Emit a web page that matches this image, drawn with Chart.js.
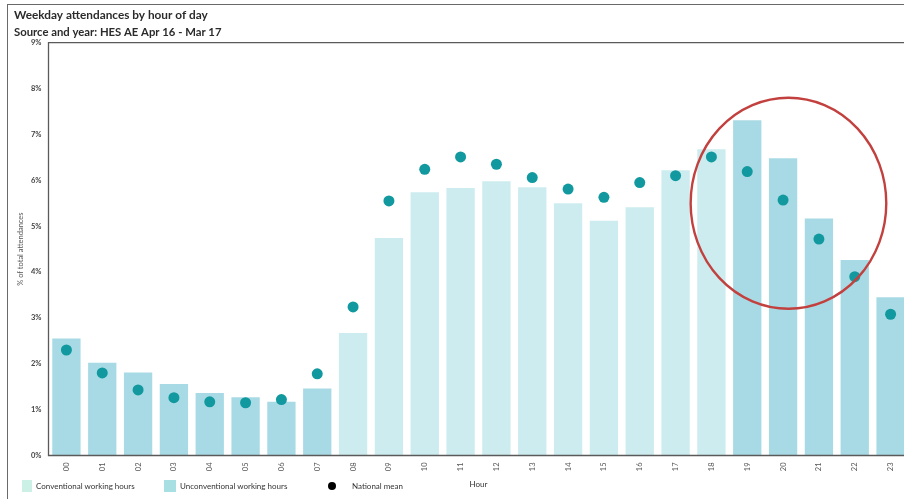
<!DOCTYPE html>
<html>
<head>
<meta charset="utf-8">
<script src="https://cdn.jsdelivr.net/npm/chart.js@4.4.1/dist/chart.umd.min.js"></script>
<style>
  html, body { margin: 0; padding: 0; background: #fff; overflow: hidden; }
  #wrap { position: relative; width: 904px; height: 499px; overflow: hidden; }
  #frame {
    position: absolute; left: 7px; top: 4px; width: 1000px; height: 600px;
    border: 1.5px solid #6a6a6a; box-sizing: border-box;
  }
  #attendance { position: absolute; left: 0; top: 0; }
  #legend { position: absolute; left: 0; top: 0; font-family: Lato, 'Open Sans', sans-serif; font-size: 8px; color: #333; }
  .item { position: absolute; top: 479px; height: 13px; display: flex; align-items: center; white-space: nowrap; }
  .swatch { display: inline-block; margin-right: 4px; }
</style>
</head>
<body>
<div id="wrap">
  <div id="frame"></div>
  <canvas id="attendance" width="914" height="499"></canvas>
  <div id="legend"></div>
</div>
<script>
// Weekday A&E attendances, share of the day's total by hour
const hours = ['00', '01', '02', '03', '04', '05', '06', '07', '08', '09', '10', '11',
               '12', '13', '14', '15', '16', '17', '18', '19', '20', '21', '22', '23'];
const attendances = [2.55, 2.02, 1.81, 1.56, 1.36, 1.27, 1.17, 1.46, 2.67, 4.74, 5.74, 5.83,
                     5.98, 5.85, 5.50, 5.12, 5.41, 6.22, 6.68, 7.31, 6.48, 5.17, 4.26, 3.45];
const nationalMean = [2.30, 1.80, 1.43, 1.26, 1.17, 1.15, 1.22, 1.78, 3.24, 5.55, 6.24, 6.51,
                      6.35, 6.06, 5.81, 5.63, 5.95, 6.10, 6.51, 6.19, 5.57, 4.72, 3.90, 3.08];
const conventionalHours = ['08', '09', '10', '11', '12', '13', '14', '15', '16', '17', '18'];
const yTicks = [0, 1, 2, 3, 4, 5, 6, 7, 8, 9];

// evening hours ringed in red (hour index / percent)
const highlight = { fromHour: 17.42, toHour: 22.88, top: 7.8, bottom: 3.2 };

const isConventional = h => conventionalHours.includes(h);

const frameBox = {
  id: 'frameBox',
  afterDraw(chart) {
    const { ctx, chartArea } = chart;
    ctx.save();
    ctx.strokeStyle = '#5a5a5a';
    ctx.lineWidth = 1.3;
    ctx.beginPath();
    ctx.moveTo(chartArea.right + 5, chartArea.top);
    ctx.lineTo(chartArea.left, chartArea.top);
    ctx.lineTo(chartArea.left, chartArea.bottom);
    ctx.lineTo(chartArea.right + 5, chartArea.bottom);
    ctx.stroke();
    ctx.restore();
  }
};

const ringPlugin = {
  id: 'ringPlugin',
  afterDatasetsDraw(chart) {
    const { ctx, scales } = chart;
    const x1 = scales.x.getPixelForValue(highlight.fromHour);
    const x2 = scales.x.getPixelForValue(highlight.toHour);
    const y1 = scales.y.getPixelForValue(highlight.top);
    const y2 = scales.y.getPixelForValue(highlight.bottom);
    ctx.save();
    ctx.strokeStyle = '#c2413f';
    ctx.lineWidth = 2.4;
    ctx.beginPath();
    ctx.ellipse((x1 + x2) / 2, (y1 + y2) / 2, (x2 - x1) / 2, (y2 - y1) / 2, 0, 0, Math.PI * 2);
    ctx.stroke();
    ctx.restore();
  }
};

const data = {
  labels: hours,
  datasets: [
    {
      type: 'line',
      label: 'National mean',
      data: nationalMean,
      showLine: false,
      pointRadius: 5.5,
      pointBackgroundColor: '#12999f',
      pointBorderWidth: 0,
      legendColor: '#000000',
      order: 0
    },
    {
      type: 'bar',
      label: 'Conventional working hours',
      data: hours.map((h, i) => isConventional(h) ? attendances[i] : null),
      backgroundColor: '#ccecef',
      legendColor: '#ccefe6',
      grouped: false,
      order: 1
    },
    {
      type: 'bar',
      label: 'Unconventional working hours',
      data: hours.map((h, i) => isConventional(h) ? null : attendances[i]),
      backgroundColor: '#a8dae5',
      legendColor: '#a8dfe3',
      grouped: false,
      order: 1
    }
  ]
};

const options = {
  responsive: false,
  animation: false,
  layout: { padding: { left: 14, right: 0, top: 0, bottom: 0 } },
  datasets: {
    bar: { categoryPercentage: 1, barPercentage: 0.79 }
  },
  plugins: {
    legend: { display: false },
    tooltip: { enabled: false },
    title: {
      display: true,
      align: 'start',
      text: 'Weekday attendances by hour of day',
      color: '#2b2b2b',
      font: { family: 'Lato', size: 11.8, weight: 'bold' },
      padding: { top: 8, bottom: 2 }
    },
    subtitle: {
      display: true,
      align: 'start',
      text: 'Source and year: HES AE Apr 16 - Mar 17',
      color: '#2b2b2b',
      font: { family: 'Lato', size: 11.3, weight: 'bold' },
      padding: { top: 1, bottom: 4 }
    }
  },
  scales: {
    x: {
      grid: { display: false, drawTicks: false },
      border: { display: false },
      afterFit(scale) { scale.height = 43.5; },
      ticks: {
        minRotation: 90,
        maxRotation: 90,
        padding: 7,
        color: '#555',
        font: { family: 'Lato', size: 7.5 }
      },
      title: {
        display: true,
        text: 'Hour',
        color: '#333',
        font: { family: 'Lato', size: 8 },
        padding: { top: 0, bottom: 10 }
      }
    },
    y: {
      min: 0,
      max: 9,
      grid: { display: false, drawTicks: false },
      border: { display: false },
      afterFit(scale) { scale.width = 34.5; },
      afterBuildTicks(scale) { scale.ticks = yTicks.map(v => ({ value: v })); },
      ticks: {
        padding: 7,
        color: '#444',
        font: { family: 'Lato', size: 7.5, weight: 'bold' },
        callback: v => v + '%'
      },
      title: {
        display: true,
        text: '% of total attendances',
        color: '#555',
        font: { family: 'Lato', size: 7.5 },
        padding: { top: 2, bottom: 0 }
      }
    }
  }
};

const chart = new Chart(document.getElementById('attendance').getContext('2d'), {
  data: data,
  options: options,
  plugins: [frameBox, ringPlugin]
});

// legend row under the axis, same order as the original figure
const legendSpots = [
  { dataset: 1, left: 22, swatch: { w: 10, h: 12, round: false }, gap: 4 },
  { dataset: 2, left: 164, swatch: { w: 12, h: 12, round: false }, gap: 4 },
  { dataset: 0, left: 328, swatch: { w: 8, h: 8, round: true }, gap: 16 }
];
const legendEl = document.getElementById('legend');
legendSpots.forEach(spot => {
  const ds = chart.data.datasets[spot.dataset];
  const item = document.createElement('div');
  item.className = 'item';
  item.style.left = spot.left + 'px';
  const sw = document.createElement('span');
  sw.className = 'swatch';
  sw.style.width = spot.swatch.w + 'px';
  sw.style.height = spot.swatch.h + 'px';
  sw.style.background = ds.legendColor;
  sw.style.marginRight = spot.gap + 'px';
  if (spot.swatch.round) sw.style.borderRadius = '50%';
  item.appendChild(sw);
  item.appendChild(document.createTextNode(ds.label));
  legendEl.appendChild(item);
});
</script>
</body>
</html>
